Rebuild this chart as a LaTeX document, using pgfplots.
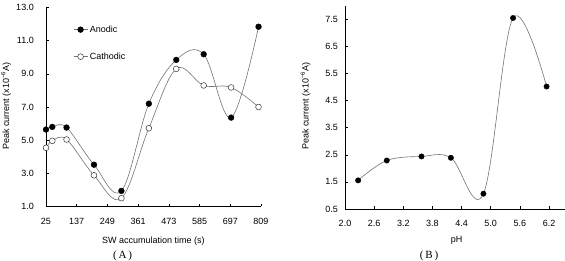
\documentclass[border=0pt]{standalone}
\usepackage{pgfplots}
\pgfplotsset{compat=1.18}
\usepackage{fontspec}
\setmainfont{Liberation Sans}
\newfontfamily\capfont{Liberation Serif}
\definecolor{curve}{gray}{0.45}
\begin{document}
\begin{tikzpicture}
\path[use as bounding box] (0pt,0pt) rectangle (565pt,261pt);
\pgfplotsset{
  mystyle/.style={
    scale only axis, axis lines=left, axis line style={line width=0.8pt,-},
    tick style={black,line width=0.6pt}, major tick length=2.8pt, tick align=inside,
    clip=false, font=\fontsize{9}{10}\selectfont,
    /pgf/number format/assume math mode=true,
    xticklabel style={yshift=-7.75pt},
    anchor=south west,
  },
  curvestyle/.style={smooth, tension=0.6, color=curve, line width=0.6pt},
}
% ---------- Panel A ----------
\begin{axis}[mystyle,
  at={(46pt,54.5pt)}, width=215pt, height=199pt,
  xmin=25, xmax=809, ymin=1, ymax=13,
  xtick={25,137,249,361,473,585,697,809},
  ytick={1,3,5,7,9,11,13},
  yticklabel style={xshift=-8.7pt, /pgf/number format/.cd, fixed, fixed zerofill, precision=1},
  xlabel={SW accumulation time (s)},
  ylabel={Peak current (x10\textsuperscript{−6}A)},
  every axis x label/.style={at={(axis description cs:0.499,-0.172)}, anchor=center},
  every axis y label/.style={at={(axis description cs:-0.186,0.505)}, anchor=center, rotate=90},
  legend style={at={(axis description cs:0.112,0.93)}, anchor=north west, draw=none, fill=none, row sep=15pt, font=\fontsize{9}{10}\selectfont},
  legend cell align=left,
  legend image code/.code={\draw[#1, mark repeat=2, mark phase=2] plot coordinates {(0pt,0pt) (7pt,0pt) (14pt,0pt)};},
]
\addplot[curvestyle, mark=*, mark size=2.9pt, mark options={solid, fill=black, draw=black, line width=0.4pt}]
 coordinates {(25,5.64) (48,5.80) (100,5.76) (200,3.52) (300,1.94) (400,7.20) (500,9.84) (600,10.18) (700,6.36) (800,11.84)};
\addlegendentry{Anodic}
\addplot[curvestyle, mark=*, mark size=2.9pt, mark options={solid, fill=white, draw=black!80, line width=0.5pt}]
 coordinates {(25,4.54) (48,4.96) (100,5.04) (200,2.88) (300,1.50) (400,5.72) (500,9.30) (600,8.30) (700,8.18) (800,7.00)};
\addlegendentry{Cathodic}
\end{axis}
% ---------- Panel B ----------
\begin{axis}[mystyle,
  at={(345pt,52pt)}, width=221pt, height=203.2pt,
  xmin=2.0, xmax=6.55, ymin=0.5, ymax=8.0,
  xtick={2.0,2.6,3.2,3.8,4.4,5.0,5.6,6.2},
  ytick={0.5,1.5,2.5,3.5,4.5,5.5,6.5,7.5},
  xticklabel style={/pgf/number format/.cd, fixed, fixed zerofill, precision=1},
  yticklabel style={xshift=-3.7pt, /pgf/number format/.cd, fixed, fixed zerofill, precision=1},
  xlabel={pH},
  ylabel={Peak current (x10\textsuperscript{−6}A)},
  every axis x label/.style={at={(axis description cs:0.505,-0.153)}, anchor=center},
  every axis y label/.style={at={(axis description cs:-0.178,0.507)}, anchor=center, rotate=90},
]
\addplot[curvestyle, mark=*, mark size=2.7pt, mark options={solid, fill=black, draw=black, line width=0.4pt}]
 coordinates {(2.27,1.556) (2.86,2.29) (3.575,2.44) (4.18,2.39) (4.85,1.065) (5.46,7.55) (6.15,5.02)};
\end{axis}
\node[font=\capfont\fontsize{11}{12}\selectfont] at (122.5pt,5pt) {(\,A\,)};
\node[font=\capfont\fontsize{11}{12}\selectfont] at (429pt,5pt) {(\,B\,)};
\end{tikzpicture}
\end{document}
